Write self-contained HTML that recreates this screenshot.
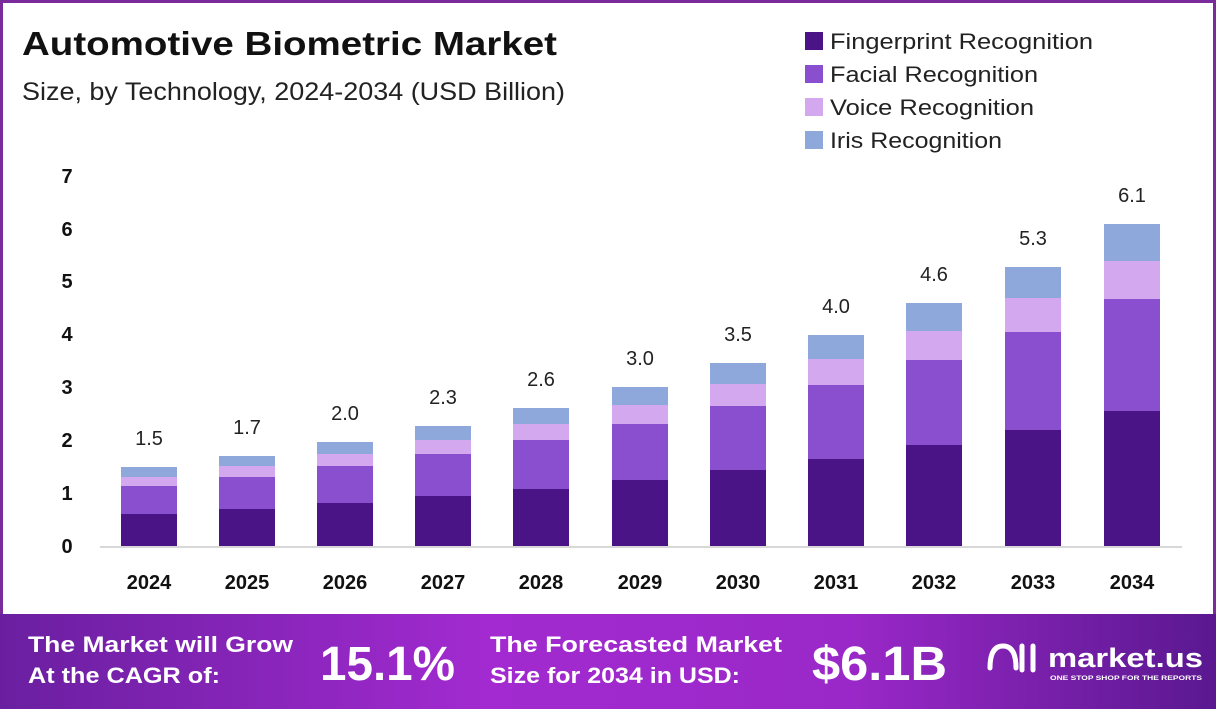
<!DOCTYPE html>
<html><head><meta charset="utf-8"><style>
body{margin:0;width:1216px;height:709px;overflow:hidden;background:#fff;font-family:"Liberation Sans",sans-serif}
</style></head><body>
<svg width="1216" height="709" xmlns="http://www.w3.org/2000/svg" font-family="Liberation Sans, sans-serif">
<defs>
<linearGradient id="ft" x1="0" x2="1" y1="0" y2="0">
<stop offset="0" stop-color="#6a1fa0"/><stop offset="0.4" stop-color="#a22ad0"/><stop offset="0.7" stop-color="#9a28c8"/><stop offset="1" stop-color="#5a1890"/></linearGradient>
</defs>
<rect x="1.5" y="1.5" width="1213" height="706" fill="#fff" stroke="#7b2a9c" stroke-width="3"/>
<text x="22" y="55" font-size="33" font-weight="bold" fill="#111" textLength="535" lengthAdjust="spacingAndGlyphs">Automotive Biometric Market</text>
<text x="22" y="100" font-size="25" fill="#222" textLength="543" lengthAdjust="spacingAndGlyphs">Size, by Technology, 2024-2034 (USD Billion)</text>
<g font-size="22" fill="#222">
<rect x="805" y="32" width="18" height="18" fill="#4a1486"/><text x="830" y="49" textLength="263" lengthAdjust="spacingAndGlyphs">Fingerprint Recognition</text>
<rect x="805" y="65" width="18" height="18" fill="#8a4fcf"/><text x="830" y="82" textLength="208" lengthAdjust="spacingAndGlyphs">Facial Recognition</text>
<rect x="805" y="98" width="18" height="18" fill="#d4a8ee"/><text x="830" y="115" textLength="204" lengthAdjust="spacingAndGlyphs">Voice Recognition</text>
<rect x="805" y="131" width="18" height="18" fill="#8fa8dc"/><text x="830" y="148" textLength="172" lengthAdjust="spacingAndGlyphs">Iris Recognition</text>
</g>
<g font-size="20" font-weight="bold" fill="#111" text-anchor="middle">
<text x="67" y="553">0</text><text x="67" y="500">1</text><text x="67" y="447">2</text><text x="67" y="394">3</text><text x="67" y="341">4</text><text x="67" y="288">5</text><text x="67" y="236">6</text><text x="67" y="183">7</text>
</g>
<line x1="100" y1="547" x2="1182" y2="547" stroke="#ccc" stroke-width="1.5"/>
<g>
<rect x="121" y="467" width="56" height="10" fill="#8fa8dc"/><rect x="121" y="477" width="56" height="9" fill="#d4a8ee"/><rect x="121" y="486" width="56" height="28" fill="#8a4fcf"/><rect x="121" y="514" width="56" height="32" fill="#4a1486"/>
<rect x="219" y="456" width="56" height="10" fill="#8fa8dc"/><rect x="219" y="466" width="56" height="11" fill="#d4a8ee"/><rect x="219" y="477" width="56" height="32" fill="#8a4fcf"/><rect x="219" y="509" width="56" height="37" fill="#4a1486"/>
<rect x="317" y="442" width="56" height="12" fill="#8fa8dc"/><rect x="317" y="454" width="56" height="12" fill="#d4a8ee"/><rect x="317" y="466" width="56" height="37" fill="#8a4fcf"/><rect x="317" y="503" width="56" height="43" fill="#4a1486"/>
<rect x="415" y="426" width="56" height="14" fill="#8fa8dc"/><rect x="415" y="440" width="56" height="14" fill="#d4a8ee"/><rect x="415" y="454" width="56" height="42" fill="#8a4fcf"/><rect x="415" y="496" width="56" height="50" fill="#4a1486"/>
<rect x="513" y="408" width="56" height="16" fill="#8fa8dc"/><rect x="513" y="424" width="56" height="16" fill="#d4a8ee"/><rect x="513" y="440" width="56" height="49" fill="#8a4fcf"/><rect x="513" y="489" width="56" height="57" fill="#4a1486"/>
<rect x="612" y="387" width="56" height="18" fill="#8fa8dc"/><rect x="612" y="405" width="56" height="19" fill="#d4a8ee"/><rect x="612" y="424" width="56" height="56" fill="#8a4fcf"/><rect x="612" y="480" width="56" height="66" fill="#4a1486"/>
<rect x="710" y="363" width="56" height="21" fill="#8fa8dc"/><rect x="710" y="384" width="56" height="22" fill="#d4a8ee"/><rect x="710" y="406" width="56" height="64" fill="#8a4fcf"/><rect x="710" y="470" width="56" height="76" fill="#4a1486"/>
<rect x="808" y="335" width="56" height="24" fill="#8fa8dc"/><rect x="808" y="359" width="56" height="26" fill="#d4a8ee"/><rect x="808" y="385" width="56" height="74" fill="#8a4fcf"/><rect x="808" y="459" width="56" height="87" fill="#4a1486"/>
<rect x="906" y="303" width="56" height="28" fill="#8fa8dc"/><rect x="906" y="331" width="56" height="29" fill="#d4a8ee"/><rect x="906" y="360" width="56" height="85" fill="#8a4fcf"/><rect x="906" y="445" width="56" height="101" fill="#4a1486"/>
<rect x="1005" y="267" width="56" height="31" fill="#8fa8dc"/><rect x="1005" y="298" width="56" height="34" fill="#d4a8ee"/><rect x="1005" y="332" width="56" height="98" fill="#8a4fcf"/><rect x="1005" y="430" width="56" height="116" fill="#4a1486"/>
<rect x="1104" y="224" width="56" height="37" fill="#8fa8dc"/><rect x="1104" y="261" width="56" height="38" fill="#d4a8ee"/><rect x="1104" y="299" width="56" height="112" fill="#8a4fcf"/><rect x="1104" y="411" width="56" height="135" fill="#4a1486"/>
</g>
<g font-size="20" fill="#222" text-anchor="middle">
<text x="149" y="445">1.5</text><text x="247" y="434">1.7</text><text x="345" y="420">2.0</text><text x="443" y="404">2.3</text><text x="541" y="386">2.6</text><text x="640" y="365">3.0</text><text x="738" y="341">3.5</text><text x="836" y="313">4.0</text><text x="934" y="281">4.6</text><text x="1033" y="245">5.3</text><text x="1132" y="202">6.1</text>
</g>
<g font-size="20" font-weight="bold" fill="#111" text-anchor="middle">
<text x="149" y="589">2024</text><text x="247" y="589">2025</text><text x="345" y="589">2026</text><text x="443" y="589">2027</text><text x="541" y="589">2028</text><text x="640" y="589">2029</text><text x="738" y="589">2030</text><text x="836" y="589">2031</text><text x="934" y="589">2032</text><text x="1033" y="589">2033</text><text x="1132" y="589">2034</text>
</g>
<rect x="0" y="614" width="1216" height="95" fill="url(#ft)"/>
<g fill="#fff" font-weight="bold">
<text x="28" y="652" font-size="22" textLength="265" lengthAdjust="spacingAndGlyphs">The Market will Grow</text>
<text x="28" y="683" font-size="22" textLength="192" lengthAdjust="spacingAndGlyphs">At the CAGR of:</text>
<text x="320" y="680" font-size="48" textLength="135" lengthAdjust="spacingAndGlyphs">15.1%</text>
<text x="490" y="652" font-size="22" textLength="292" lengthAdjust="spacingAndGlyphs">The Forecasted Market</text>
<text x="490" y="683" font-size="22" textLength="250" lengthAdjust="spacingAndGlyphs">Size for 2034 in USD:</text>
<text x="812" y="680" font-size="48" textLength="135" lengthAdjust="spacingAndGlyphs">$6.1B</text>
<text x="1048" y="667" font-size="27" textLength="155" lengthAdjust="spacingAndGlyphs">market.us</text>
<text x="1050" y="680" font-size="6" textLength="152" lengthAdjust="spacingAndGlyphs">ONE STOP SHOP FOR THE REPORTS</text>
</g>
<path d="M990 668 q0-22 13-22 q13 0 13 22 M1022 646 v24 M1033 646 v24" stroke="#fff" stroke-width="5" fill="none" stroke-linecap="round"/>
</svg>
</body></html>
